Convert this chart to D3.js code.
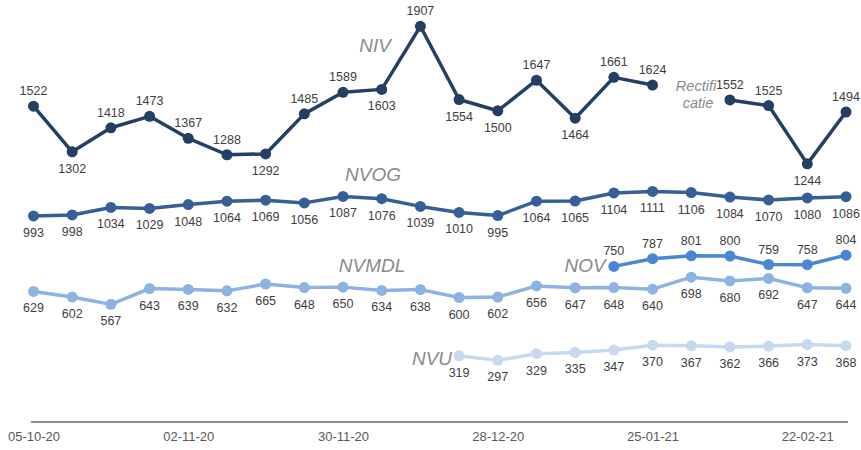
<!DOCTYPE html>
<html><head><meta charset="utf-8">
<script src="https://cdn.jsdelivr.net/npm/d3@7"></script>
<style>body{margin:0;background:#fff}svg{display:block}</style>
</head><body><svg id="c" width="861" height="450"></svg>
<script>
const weeks = ["05-10-20","12-10-20","19-10-20","26-10-20","02-11-20","09-11-20","16-11-20","23-11-20","30-11-20","07-12-20","14-12-20","21-12-20","28-12-20","04-01-21","11-01-21","18-01-21","25-01-21","01-02-21","08-02-21","15-02-21","22-02-21","01-03-21"];
const tickLabels = ["05-10-20","02-11-20","30-11-20","28-12-20","25-01-21","22-02-21"];
const niv   = [1522,1302,1418,1473,1367,1288,1292,1485,1589,1603,1907,1554,1500,1647,1464,1661,1624,null,1552,1525,1244,1494];
const nivLabelSide = ["a","b","a","a","a","a","b","a","a","b","a","b","b","a","b","a","a","a","a","a","b","a"];
const nvog  = [993,998,1034,1029,1048,1064,1069,1056,1087,1076,1039,1010,995,1064,1065,1104,1111,1106,1084,1070,1080,1086];
const nvmdl = [629,602,567,643,639,632,665,648,650,634,638,600,602,656,647,648,640,698,680,692,647,644];
const nov   = [null,null,null,null,null,null,null,null,null,null,null,null,null,null,null,750,787,801,800,759,758,804];
const nvu   = [null,null,null,null,null,null,null,null,null,null,null,319,297,329,335,347,370,367,362,366,373,368];

const svg = d3.select("#c");
const x = d3.scalePoint().domain(weeks).range([33.5, 846]);
const y = d3.scaleLinear().domain([0, 2000]).range([422, 7]);

// axis
const ax = svg.append("g").attr("transform","translate(0,422)")
  .call(d3.axisBottom(x).tickValues(tickLabels).tickSize(0).tickPadding(10));
ax.select(".domain").attr("d","M31,0H848").attr("stroke","#8c8c8c").attr("stroke-width",2);
ax.selectAll("text").attr("font-family","Liberation Sans, Arial, sans-serif").attr("font-size",13).attr("fill","#595959");

const series = [
  {name:"NIV", data:niv, color:"#243f64", side:nivLabelSide},
  {name:"NVOG", data:nvog, color:"#355f95", side:null, def:"b"},
  {name:"NVMDL", data:nvmdl, color:"#8db3e2", side:null, def:"b"},
  {name:"NOV", data:nov, color:"#4a86d2", side:null, def:"a"},
  {name:"NVU", data:nvu, color:"#c6d9f1", side:null, def:"b"}
];

const line = d3.line().defined(d => d.v != null).x(d => x(d.k)).y(d => y(d.v));

series.slice().reverse().forEach(s => {
  const pts = weeks.map((k,i) => ({k, v:s.data[i], i}));
  const g = svg.append("g");
  g.append("path").datum(pts).attr("d", line).attr("fill","none")
    .attr("stroke", s.color).attr("stroke-width",3.5).attr("stroke-linejoin","round");
  const valid = pts.filter(d => d.v != null);
  g.selectAll("circle").data(valid).join("circle")
    .attr("cx", d => x(d.k)).attr("cy", d => y(d.v)).attr("r",5.5).attr("fill", s.color);
  g.selectAll("text").data(valid).join("text")
    .attr("x", d => x(d.k))
    .attr("y", d => { const side = s.side ? s.side[d.i] : s.def; return side === "a" ? y(d.v) - 11 : y(d.v) + 21; })
    .attr("text-anchor","middle")
    .attr("font-family","Liberation Sans, Arial, sans-serif").attr("font-size",12.5).attr("fill","#404040")
    .text(d => d.v);
});

// series names
const names = [
  {t:"NIV", x:375, y:52, s:19},
  {t:"NVOG", x:373, y:181, s:19},
  {t:"NVMDL", x:372, y:272, s:19},
  {t:"NOV", x:585, y:272, s:19},
  {t:"NVU", x:432, y:365, s:19},
  {t:"Rectifi", x:696, y:91, s:14.5},
  {t:"catie", x:698, y:108, s:14.5}
];
svg.append("g").selectAll("text").data(names).join("text")
  .attr("x", d => d.x).attr("y", d => d.y).attr("text-anchor","middle")
  .attr("font-family","Liberation Sans, Arial, sans-serif").attr("font-style","italic")
  .attr("font-size", d => d.s).attr("fill","#8a8a8a").text(d => d.t);
</script>
</body></html>
